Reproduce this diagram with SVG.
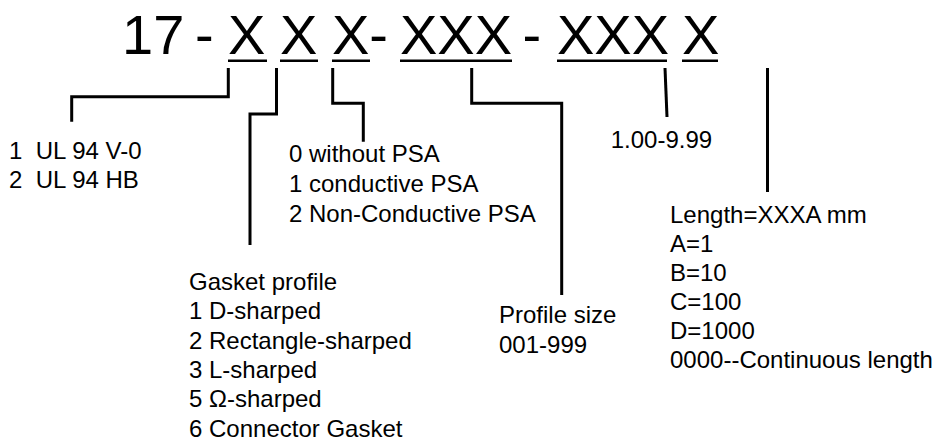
<svg xmlns="http://www.w3.org/2000/svg" width="942" height="443" viewBox="0 0 942 443">
<style>
  .t { font-family: "Liberation Sans", Arial, Helvetica, sans-serif; fill: #000; }
  .big { font-size: 56px; }
  .sm { font-size: 24px; }
  .ul { stroke: #000; stroke-width: 2.5; fill: none; }
  .cn { stroke: #000; stroke-width: 3; fill: none; stroke-linecap: butt; stroke-linejoin: miter; }
</style>
<rect width="942" height="443" fill="#fff"/>
<g id="title">
  <text class="t big" x="122" y="54">17</text>
  <text class="t big" x="195" y="54">-</text>
  <text class="t big" x="228" y="54">X</text>
  <text class="t big" x="280" y="54">X</text>
  <text class="t big" x="332" y="54">X-</text>
  <text class="t big" x="400" y="54">XXX</text>
  <text class="t big" x="522.5" y="54">-</text>
  <text class="t big" x="557" y="54">XXX</text>
  <text class="t big" x="682" y="54">X</text>
  <path class="ul" d="M228,60.8H267 M280,60.8H318 M332,60.8H370 M400,60.8H512 M557,60.8H667 M682,60.8H718"/>
</g>
<g id="connectors">
  <path class="cn" d="M228.3,68V96.7H71.7V121.7"/>
  <path class="cn" d="M276.5,68V114H250V245"/>
  <path class="cn" d="M332.7,68V103.3H363.3V141.7"/>
  <path class="cn" d="M471.7,68V103.3H561.7V295"/>
  <path class="cn" d="M665,68L667,117"/>
  <path class="cn" d="M767.5,68V192"/>
</g>
<g id="material">
  <text class="t sm" x="9" y="159.3" xml:space="preserve">1  UL 94 V-0</text>
  <text class="t sm" x="9" y="188.3" xml:space="preserve">2  UL 94 HB</text>
</g>
<g id="psa">
  <text class="t sm" x="289" y="161.7">0 without PSA</text>
  <text class="t sm" x="289" y="191.7">1 conductive PSA</text>
  <text class="t sm" x="289" y="221.7">2 Non-Conductive PSA</text>
</g>
<g id="gasket-profile">
  <text class="t sm" x="189" y="290">Gasket profile</text>
  <text class="t sm" x="189" y="319.3">1 D-sharped</text>
  <text class="t sm" x="189" y="348.6">2 Rectangle-sharped</text>
  <text class="t sm" x="189" y="377.9">3 L-sharped</text>
  <text class="t sm" x="189" y="407.2">5 Ω-sharped</text>
  <text class="t sm" x="189" y="436.5">6 Connector Gasket</text>
</g>
<g id="profile-size">
  <text class="t sm" x="499" y="323.3">Profile size</text>
  <text class="t sm" x="499" y="352.7">001-999</text>
</g>
<g id="range">
  <text class="t sm" x="610.7" y="148.3">1.00-9.99</text>
</g>
<g id="length">
  <text class="t sm" x="670" y="222.5">Length=XXXA mm</text>
  <text class="t sm" x="670" y="251.6">A=1</text>
  <text class="t sm" x="670" y="280.7">B=10</text>
  <text class="t sm" x="670" y="309.8">C=100</text>
  <text class="t sm" x="670" y="338.9">D=1000</text>
  <text class="t sm" x="670" y="368">0000--Continuous length</text>
</g>
</svg>
